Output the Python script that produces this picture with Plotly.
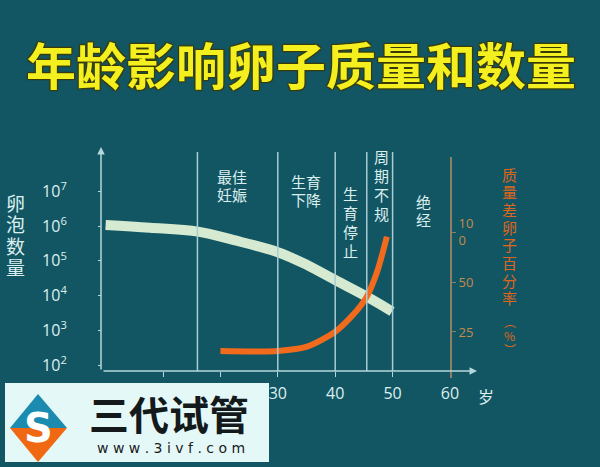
import plotly.graph_objects as go

# ---------------- data ----------------
follicle_age = [0, 7.7, 16.1, 22.2, 30, 35.1, 40, 45.5, 49.9]
follicle_count = [1.08e6, 9.0e5, 6.9e5, 4.0e5, 1.77e5, 7.6e4, 2.8e4, 9.3e3, 3.5e3]

poor_age = [20, 25, 30, 35.1, 40, 43.1, 45.5, 47.3, 49.0]
poor_pct = [19.2, 19.1, 19.2, 20.4, 25.1, 31.7, 40.8, 57.6, 93.8]

stage_bounds = [16, 30, 40, 45.5, 50]

x_ticks = [10, 20, 30, 40, 50, 60]
y_ticks = [1e2, 1e3, 1e4, 1e5, 1e6, 1e7]
y_tick_text = ["10<sup>2</sup>", "10<sup>3</sup>", "10<sup>4</sup>",
               "10<sup>5</sup>", "10<sup>6</sup>", "10<sup>7</sup>"]
y2_ticks = [25, 50, 100]
y2_tick_text = ["25", "50", "10<br>0"]

title_text = "年龄影响卵子质量和数量"
left_title = "卵泡数量"
right_title = ["质", "量", "差", "卵", "子", "百", "分", "率", "︵", "%", "︶"]

BG = "#135663"
PALE = "#b4d8dc"
TXT = "#dcefef"
ORANGE = "#f26b1d"
TAN = "#8d7f66"
CJK = "Noto Sans CJK SC"

# plot area in pixels
L, R, T, B = 102, 478, 143, 371
W, H = 600, 467


def px(x):
    return (x - L) / (R - L)


def py(y):
    return (B - y) / (B - T)


fig = go.Figure()

fig.add_trace(go.Scatter(
    x=follicle_age, y=follicle_count, mode="lines",
    line=dict(color="#d5ead0", width=10, shape="spline", smoothing=1.0),
    hoverinfo="skip", showlegend=False))

fig.add_trace(go.Scatter(
    x=poor_age, y=poor_pct, mode="lines", yaxis="y2",
    line=dict(color=ORANGE, width=6, shape="spline", smoothing=0.8),
    hoverinfo="skip", showlegend=False))

shapes = []
for b in stage_bounds:
    shapes.append(dict(type="line", xref="x", yref="paper", x0=b, x1=b,
                       y0=0, y1=py(152), line=dict(color="#a8cdd4", width=1.5)))
# right axis line
shapes.append(dict(type="line", xref="paper", yref="paper", x0=px(451), x1=px(451),
                   y0=py(378), y1=py(157), line=dict(color=TAN, width=2)))
# watermark box
shapes.append(dict(type="rect", xref="paper", yref="paper", x0=px(5), x1=px(269),
                   y0=py(462), y1=py(383), fillcolor="#e4f8f8", line=dict(width=0), layer="above"))
# logo: blue top, orange bottom
shapes.append(dict(type="path", xref="paper", yref="paper", layer="above",
                   path="M {} {} L {} {} L {} {} L {} {} Z".format(
                       px(10), py(428), px(38), py(394), px(67), py(428), px(38), py(428)),
                   fillcolor="#1b8bb0", line=dict(width=0)))
shapes.append(dict(type="path", xref="paper", yref="paper", layer="above",
                   path="M {} {} L {} {} L {} {} L {} {} Z".format(
                       px(10), py(428), px(38), py(428), px(67), py(428), px(38), py(462)),
                   fillcolor="#f06812", line=dict(width=0)))

ann = []
# title
ann.append(dict(xref="paper", yref="paper", x=px(301), y=py(63), text=title_text,
                showarrow=False, xanchor="center", yanchor="middle",
                font=dict(family=CJK, size=50, color="#f4ef1e", weight="bold",
                          shadow="1px 1px 1px #3a3a08, -1px -1px 1px #3a3a08, 1px -1px 1px #3a3a08, -1px 1px 1px #3a3a08")))

# axes arrows
ann.append(dict(xref="paper", yref="paper", x=px(101), y=py(147), ax=0, ay=224,
                text="", showarrow=True, arrowhead=2, arrowsize=1, arrowwidth=1.5,
                arrowcolor=PALE))
ann.append(dict(xref="paper", yref="paper", x=px(477), y=py(371), ax=-375, ay=0,
                text="", showarrow=True, arrowhead=2, arrowsize=1, arrowwidth=1.5,
                arrowcolor=PALE))


def put(text, x, y, size, color, family=CJK, weight="normal"):
    ann.append(dict(xref="paper", yref="paper", x=px(x), y=py(y), text=text,
                    showarrow=False, xanchor="center", yanchor="middle",
                    font=dict(family=family, size=size, color=color, weight=weight)))


# left title
for i, ch in enumerate(left_title):
    put(ch, 15, 202 + i * 21.5, 19, TXT)
# right title
rt_y = [174 + i * 17.7 for i in range(8)] + [321, 335, 349]
rt_size = [15] * 8 + [12, 12, 12]
for ch, yy, sz in zip(right_title, rt_y, rt_size):
    put(ch, 510, yy, sz, "#de661c")

# stage labels
put("最佳", 232, 176, 15, TXT)
put("妊娠", 232, 194, 15, TXT)
put("生育", 306, 181, 15, TXT)
put("下降", 306, 199, 15, TXT)
for i, ch in enumerate("生育停止"):
    put(ch, 350, 193 + i * 19, 15, TXT)
for i, ch in enumerate("周期不规"):
    put(ch, 381, 156 + i * 19.3, 15, TXT)
for i, ch in enumerate("绝经"):
    put(ch, 423, 201 + i * 18, 15, TXT)

put("岁", 486, 396, 16, TXT)

# watermark text
put("三代试管", 169, 413, 40, "#141a1c", weight="bold")
put("w w w . 3 i v f . c o m", 171, 448, 14, "#1a1a1a", family="DejaVu Sans")
put("S", 38, 428, 40, "#ffffff", family="DejaVu Sans", weight="bold")

fig.update_layout(
    width=W, height=H,
    margin=dict(l=L, r=W - R, t=T, b=H - B, pad=0),
    paper_bgcolor=BG, plot_bgcolor=BG,
    showlegend=False,
    shapes=shapes, annotations=ann,
    xaxis=dict(range=[(L - 105.6) / 5.74, (R - 105.6) / 5.74], showgrid=False,
               zeroline=False, showline=False, tickvals=x_ticks,
               ticks="outside", ticklen=5, tickcolor=PALE, tickwidth=1,
               tickfont=dict(family="Open Sans", size=16, color=TXT),
               ticklabelstandoff=3),
    yaxis=dict(type="log", range=[1.83, 8.39], showgrid=False, zeroline=False,
               showline=False, tickvals=y_ticks, ticktext=y_tick_text,
               ticks="outside", ticklen=3, tickcolor=PALE,
               tickfont=dict(family="Open Sans", size=16, color=TXT),
               ticklabelstandoff=28),
    yaxis2=dict(type="log", range=[1.163, 2.536], overlaying="y", side="right",
                anchor="free", position=px(451), showgrid=False, zeroline=False,
                showline=False, tickvals=y2_ticks, ticktext=y2_tick_text,
                ticks="outside", ticklen=4, tickcolor=TAN,
                tickfont=dict(family="Open Sans", size=13, color="#c48a4e")),
)

fig.write_html("out.html", config={"displayModeBar": False},
               post_script="document.body.style.margin='0';document.body.style.padding='0';")
